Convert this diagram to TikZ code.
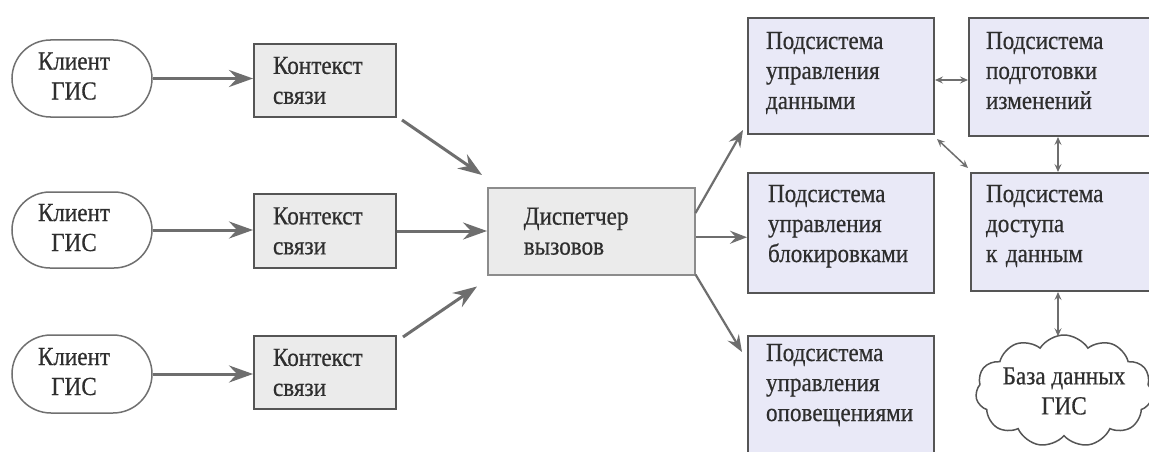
\documentclass[tikz,border=0pt]{standalone}
\usepackage{fontspec}
\setmainfont{Liberation Serif}
\newfontfamily\heavyserif[FakeBold=0.5, FakeStretch=0.89]{Liberation Serif}
\usetikzlibrary{shapes.misc,shapes.symbols,arrows.meta,calc}
\definecolor{arrowgray}{HTML}{6E6E6E}
\definecolor{pillgray}{HTML}{707070}
\definecolor{ctxborder}{HTML}{555555}
\definecolor{ctxfill}{HTML}{EBEBEB}
\definecolor{dispborder}{HTML}{8C8C8C}
\definecolor{subfill}{HTML}{E9E9F7}
\definecolor{subborder}{HTML}{555555}
\definecolor{textgray}{HTML}{2E2E2E}
\tikzset{
  lbl/.style={font=\heavyserif\fontsize{26}{30}\selectfont, text=textgray},
  client/.style={lbl, rounded rectangle, draw=pillgray, line width=1.5pt, fill=white,
    minimum width=140pt, align=center, inner sep=0pt},
  ctxbox/.style={lbl, rectangle, draw=ctxborder, line width=2pt, fill=ctxfill,
    anchor=north west, minimum width=142pt, inner xsep=19pt, text width=104pt, align=left, inner ysep=0pt},
  dispbox/.style={lbl, rectangle, draw=dispborder, line width=1.5pt, fill=ctxfill,
    anchor=north west, inner xsep=36pt, text width=135pt, align=left, inner ysep=0pt},
  subbox/.style={lbl, rectangle, draw=subborder, line width=2pt, fill=subfill,
    anchor=north west, align=left, inner ysep=0pt},
  dbcloud/.style={lbl, cloud, cloud puffs=11, cloud puff arc=115, cloud ignores aspect,
    draw=subborder, line width=1.5pt,
    fill=white, minimum width=160pt, minimum height=112pt, align=center, inner sep=0pt},
  arrL/.style={draw=arrowgray, line width=3pt, -{Stealth[length=24pt,width=17pt,inset=8pt]}},
  arrR/.style={draw=arrowgray, line width=2.2pt, -{Stealth[length=17pt,width=13pt,inset=6pt]}},
  darr/.style={draw=arrowgray, line width=1.5pt, {Stealth[length=8pt,width=7pt,inset=3pt]}-{Stealth[length=8pt,width=7pt,inset=3pt]}},
}
\newcommand\cltext{\begin{tabular}{@{}c@{\hspace{16pt}}}Клиент\\ГИС\end{tabular}}
\begin{document}
\begin{tikzpicture}[x=1pt,y=-1pt]
\useasboundingbox (0,0) rectangle (1149,452);
\fill[white] (0,0) rectangle (1149,452);

% clients
\node[client, minimum height=77pt] (cl1) at (82,78.5) {\cltext};
\node[client, minimum height=76pt] (cl2) at (82,230) {\cltext};
\node[client, minimum height=78pt] (cl3) at (82,374) {\cltext};

% contexts
\node[ctxbox, minimum height=73pt] (ctx1) at (253,43) {Контекст\\связи};
\node[ctxbox, minimum height=74pt] (ctx2) at (253,193) {Контекст\\связи};
\node[ctxbox, minimum height=73pt] (ctx3) at (253,335) {Контекст\\связи};

% dispatcher
\node[dispbox, minimum height=87pt] (disp) at (487,187) {Диспетчер\\вызовов};

% subsystems
\node[subbox, inner xsep=18pt, text width=150pt, text height=31pt, text depth=85pt] (A) at (747,17) {Подсистема\\управления\\данными};
\node[subbox, inner xsep=17pt, text width=168pt, text height=31pt, text depth=87pt] (B) at (968,17) {Подсистема\\подготовки\\изменений};
\node[subbox, inner xsep=20pt, text width=146pt, text height=29pt, text depth=91pt] (C) at (747,172) {Подсистема\\управления\\блокировками};
\node[subbox, inner xsep=15pt, text width=170pt, text height=29pt, text depth=89pt] (D) at (970,172) {Подсистема\\доступа\\к данным};
\node[subbox, inner xsep=18pt, text width=150pt, text height=25pt, text depth=130pt] (E) at (747,335) {Подсистема\\управления\\оповещениями};

% database cloud
\node[dbcloud] (db) at (1064,391) {База данных\\ГИС};

% helper point for the horizontal dispatcher -> C arrow
\coordinate (dC) at ($(disp.east)+(0,6)$);

% arrows: clients -> contexts
\draw[arrL] (cl1.east) -- (ctx1.west |- cl1.east);
\draw[arrL] (cl2.east) -- (ctx2.west |- cl2.east);
\draw[arrL] (cl3.east) -- (ctx3.west |- cl3.east);

% contexts -> dispatcher
\draw[arrL] ($(ctx1.south east)+(5,2)$) -- ($(disp.north west)+(-5,-12)$);
\draw[arrL] (ctx2.east) -- (disp.west |- ctx2.east);
\draw[arrL] ($(ctx3.north east)+(6,2)$) -- ($(disp.south west)+(-10,11)$);

% dispatcher -> subsystems
\draw[arrR] ($(disp.north east)+(0,26)$) -- ($(A.south west)+(-4,-5)$);
\draw[arrR] (dC) -- (C.west |- dC);
\draw[arrR] ($(disp.south east)+(0,-1)$) -- ($(E.north west)+(-5,17)$);

% double arrows
\draw[darr] ($(A.north east)+(0,63)$) -- ($(B.north west)+(0,63)$);
\draw[darr] ($(A.south east)+(2,4)$) -- ($(D.north west)+(-2,-4)$);
\draw[darr] ($(B.south west)+(90,0)$) -- ($(D.north west)+(88,0)$);
\draw[darr] ($(D.south west)+(88,0)$) -- ($(db.north)+(-6,2)$);
\end{tikzpicture}
\end{document}
